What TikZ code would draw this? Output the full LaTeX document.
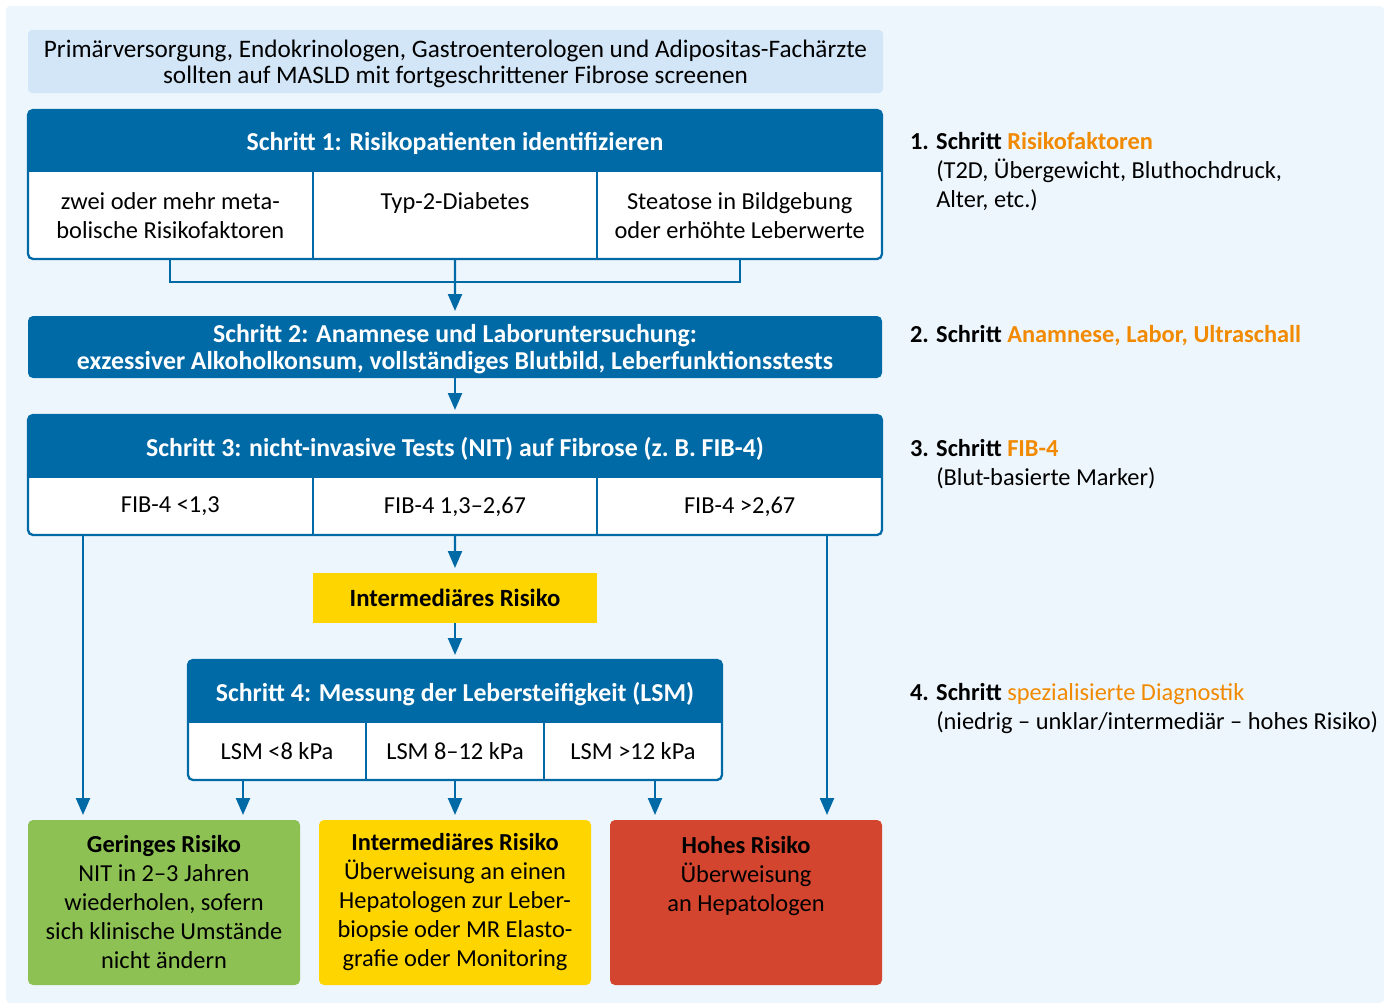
\documentclass[tikz,border=0pt]{standalone}
\usepackage{fontspec}
\setmainfont{Carlito}
\usepackage{tikz}
\usetikzlibrary{arrows.meta,positioning}

\definecolor{stepblue}{HTML}{006AA7}
\definecolor{pageblue}{HTML}{EEF6FD}
\definecolor{screenblue}{HTML}{D2E6F8}
\definecolor{noteorange}{HTML}{F18A00}
\definecolor{lowgreen}{HTML}{8DC153}
\definecolor{midyellow}{HTML}{FFD500}
\definecolor{highred}{HTML}{D4452F}

\begin{document}
\begin{tikzpicture}[x=1pt,y=-1pt,>={Triangle[length=17pt,width=14pt]},
  line width=2.3pt,
  every node/.style={font=\fontsize{24.4}{29}\selectfont,inner sep=0pt,outer sep=0pt},
  frame/.style={draw=stepblue,fill=white,rounded corners=5pt},
  head/.style={text=white,font=\fontsize{25.8}{27}\selectfont\bfseries,align=center,text depth=0pt},
  cell/.style={align=center},
  result/.style={rounded corners=5pt,minimum width=272pt,minimum height=165pt,align=center},
  arr/.style={->,draw=stepblue,shorten >=5pt},
  link/.style={draw=stepblue},
  note/.style={anchor=north west,align=left}]
\useasboundingbox (0,0) rectangle (1394,1005);
\fill[pageblue,rounded corners=4pt] (6,6) rectangle (1384,1003);

% who screens
\node[fill=screenblue,rounded corners=4pt,minimum width=855pt,minimum height=63pt,
  align=center,text depth=0pt,font=\fontsize{25.2}{26}\selectfont] (screen) at (455.5,61.5)
  {Primärversorgung, Endokrinologen, Gastroenterologen und Adipositas-Fachärzte\\
   sollten auf MASLD mit fortgeschrittener Fibrose screenen};

% step 1
\node[frame,minimum width=854pt,minimum height=149pt] (s1) at (455,184.5) {};
\begin{scope}
  \clip[rounded corners=5pt] (s1.north west) rectangle (s1.south east);
  \fill[stepblue] (s1.north west) rectangle ([yshift=-62pt]s1.north east);
\end{scope}
\node[head,minimum width=854pt,minimum height=62pt,below=0pt of s1.north] (s1h)
  {Schritt 1: Risikopatienten identifizieren};
\node[cell,minimum width=284.67pt,minimum height=87pt,anchor=north west] (s1a) at (s1h.south west)
  {zwei oder mehr meta-\\bolische Risikofaktoren};
\node[cell,minimum width=284.67pt,minimum height=87pt,right=0pt of s1a] (s1b)
  {Typ-2-Diabetes\\\mbox{}};
\node[cell,minimum width=284.67pt,minimum height=87pt,right=0pt of s1b] (s1c)
  {Steatose in Bildgebung\\oder erhöhte Leberwerte};
\draw[link] (s1a.north east) -- (s1a.south east) (s1b.north east) -- (s1b.south east);
\draw[link] (s1a.south) -- ++(0,23) -| (s1c.south);

% step 2
\node[head,fill=stepblue,rounded corners=5pt,minimum width=854pt,minimum height=62pt,
  below=57pt of s1] (s2)
  {Schritt 2: Anamnese und Laboruntersuchung:\\
   exzessiver Alkoholkonsum, vollständiges Blutbild, Leberfunktionsstests};

% step 3
\node[frame,minimum width=854pt,minimum height=120pt,below=37pt of s2] (s3) {};
\begin{scope}
  \clip[rounded corners=5pt] (s3.north west) rectangle (s3.south east);
  \fill[stepblue] (s3.north west) rectangle ([yshift=-63pt]s3.north east);
\end{scope}
\node[head,minimum width=854pt,minimum height=63pt,below=0pt of s3.north] (s3h)
  {Schritt 3: nicht-invasive Tests (NIT) auf Fibrose (z.~B. FIB-4)};
\node[cell,minimum width=284.67pt,minimum height=57pt,anchor=north west] (s3a) at (s3h.south west)
  {FIB-4 <1,3};
\node[cell,minimum width=284.67pt,minimum height=57pt,right=0pt of s3a] (s3b) {FIB-4 1,3–2,67};
\node[cell,minimum width=284.67pt,minimum height=57pt,right=0pt of s3b] (s3c) {FIB-4 >2,67};
\draw[link] (s3a.north east) -- (s3a.south east) (s3b.north east) -- (s3b.south east);

\node[fill=midyellow,minimum width=284pt,minimum height=50pt,
  font=\fontsize{24.8}{29}\selectfont\bfseries,below=38pt of s3] (imr) {Intermediäres Risiko};

% step 4
\node[frame,minimum width=534pt,minimum height=120pt,below=37pt of imr] (s4) {};
\begin{scope}
  \clip[rounded corners=5pt] (s4.north west) rectangle (s4.south east);
  \fill[stepblue] (s4.north west) rectangle ([yshift=-63pt]s4.north east);
\end{scope}
\node[head,minimum width=534pt,minimum height=63pt,below=0pt of s4.north] (s4h)
  {Schritt 4: Messung der Lebersteifigkeit (LSM)};
\node[cell,minimum width=178pt,minimum height=57pt,anchor=north west] (s4a) at (s4h.south west)
  {LSM <8 kPa};
\node[cell,minimum width=178pt,minimum height=57pt,right=0pt of s4a] (s4b) {LSM 8–12 kPa};
\node[cell,minimum width=178pt,minimum height=57pt,right=0pt of s4b] (s4c) {LSM >12 kPa};
\draw[link] (s4a.north east) -- (s4a.south east) (s4b.north east) -- (s4b.south east);

% outcomes
\node[result,fill=midyellow,below=40pt of s4] (mid)
  {{\bfseries Intermediäres Risiko}\\Überweisung an einen\\Hepatologen zur Leber-\\biopsie oder MR Elasto-\\grafie oder Monitoring};
\node[result,fill=lowgreen,left=19pt of mid] (low)
  {{\bfseries Geringes Risiko}\\NIT in 2–3 Jahren\\wiederholen, sofern\\sich klinische Umstände\\nicht ändern};
\node[result,fill=highred,right=19pt of mid] (high)
  {{\bfseries Hohes Risiko}\\Überweisung\\an Hepatologen\\\mbox{}\\\mbox{}};

% arrows
\draw[arr] (s1b.south) -- (s2.north);
\draw[arr] (s2.south) -- (s3.north);
\draw[arr] (s3b.south) -- (imr.north);
\draw[arr] (imr.south) -- (s4.north);
\draw[arr] ([xshift=55pt]s3.south west) -- ([xshift=55pt]low.north west);
\draw[arr] ([xshift=-55pt]s3.south east) -- ([xshift=-55pt]high.north east);
\draw[arr] ([xshift=-34pt]s4a.south) -- ([xshift=-34pt]s4a.south |- low.north);
\draw[arr] (s4b.south) -- (mid.north);
\draw[arr] ([xshift=22pt]s4c.south) -- ([xshift=22pt]s4c.south |- high.north);

% side notes
\node[note] (n1) at (910,132)
  {{\bfseries 1. Schritt \textcolor{noteorange}{Risikofaktoren}}\\
   \phantom{\bfseries 1. }(T2D, Übergewicht, Bluthochdruck,\\
   \phantom{\bfseries 1. }Alter, etc.)};
\node[note] (n2) at (910,325)
  {{\bfseries 2. Schritt \textcolor{noteorange}{Anamnese, Labor, Ultraschall}}};
\node[note] (n3) at (910,439)
  {{\bfseries 3. Schritt \textcolor{noteorange}{FIB-4}}\\
   \phantom{\bfseries 3. }(Blut-basierte Marker)};
\node[note] (n4) at (910,683)
  {{\bfseries 4. Schritt} \textcolor{noteorange}{spezialisierte Diagnostik}\\
   \phantom{\bfseries 4. }(niedrig – unklar/intermediär – hohes Risiko)};
\end{tikzpicture}
\end{document}
